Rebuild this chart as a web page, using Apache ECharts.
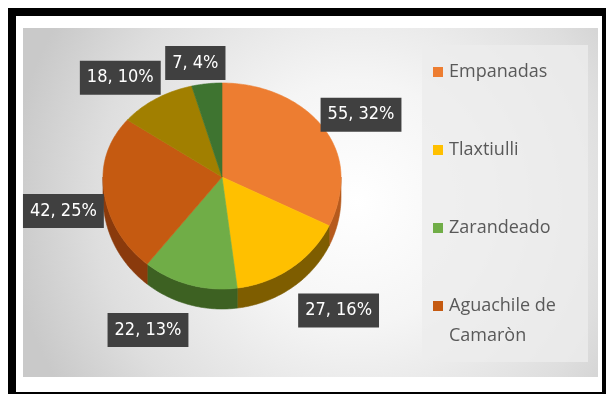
<!DOCTYPE html>
<html>
<head>
<meta charset="utf-8">
<script src="https://cdn.jsdelivr.net/npm/echarts@6/dist/echarts.min.js"></script>
<style>
  html, body { margin: 0; padding: 0; background: #ffffff; }
  #chart { width: 606px; height: 394px; }
</style>
</head>
<body>
<div id="chart"></div>
<script>
// Platillos y cantidades
const categories = ['Empanadas', 'Tlaxtiulli', 'Zarandeado', 'Aguachile de Camaròn', 'Categoría 5', 'Categoría 6'];
const values = [55, 27, 22, 42, 18, 7];
const legendNames = ['Empanadas', 'Tlaxtiulli', 'Zarandeado', 'Aguachile de Camaròn'];

// Colours: top faces and the darker outer walls
const topColors = ['#ED7D31', '#FFC000', '#70AD47', '#C55A11', '#A17F00', '#3E7430'];
const wallColors = ['#B65A1D', '#7E5D00', '#3D6122', '#8A3A0C', '#6E5600', '#2A4F20'];

// Geometry of the tilted pie (pixels)
const CX = 222, CY = 177;
const RX = 119, RY_BACK = 94, RY_FRONT = 112, DEPTH = 20;
// small per-label shifts away from the default outside position
const labelNudge = [[2, 0], [22, 4], [-30, 3], [2, -2], [-12, -2], [-7, 2]];
// legend block: swatch column, first row centre and row pitch
const LEG_X = 433, LEG_Y0 = 72, LEG_STEP = 78;

const TOTAL = values.reduce((a, b) => a + b, 0);
const starts = values.map((v, i) => values.slice(0, i).reduce((a, b) => a + b, 0));

// Whole-number percentages that always add up to 100 (largest remainder)
function percents(list) {
  const sum = list.reduce((a, b) => a + b, 0);
  const raw = list.map(v => v / sum * 100);
  const floors = raw.map(Math.floor);
  const left = 100 - floors.reduce((a, b) => a + b, 0);
  const order = raw.map((r, i) => [r - floors[i], i]).sort((a, b) => b[0] - a[0]);
  for (let k = 0; k < left; k++) floors[order[k][1]] += 1;
  return floors;
}
const pcts = percents(values);

// Point on the rim; angle measured clockwise from 12 o'clock
function rim(theta, drop) {
  const s = Math.sin(theta), c = Math.cos(theta);
  const ry = c > 0 ? RY_BACK : RY_FRONT;
  return [CX + RX * s, CY - ry * c + drop];
}
function arc(a0, a1, drop) {
  const pts = [];
  const n = Math.max(2, Math.ceil(Math.abs(a1 - a0) / (Math.PI / 180)));
  for (let k = 0; k <= n; k++) pts.push(rim(a0 + (a1 - a0) * k / n, drop));
  return pts;
}

function renderSlice(i, v, s) {
  const a0 = s / TOTAL * Math.PI * 2;
  const a1 = (s + v) / TOTAL * Math.PI * 2;
  const children = [];

  // outer wall, visible only on the front half
  const b0 = Math.max(a0, Math.PI / 2), b1 = Math.min(a1, Math.PI * 1.5);
  if (b1 > b0) {
    children.push({
      type: 'polygon', z2: 1,
      shape: { points: arc(b0, b1, 0).concat(arc(b1, b0, DEPTH)) },
      style: { fill: wallColors[i], stroke: wallColors[i], lineWidth: 0.6 }
    });
  }

  // top face
  children.push({
    type: 'polygon', z2: 10,
    shape: { points: [[CX, CY]].concat(arc(a0, a1, 0)) },
    style: { fill: topColors[i], stroke: topColors[i], lineWidth: 0.6 }
  });

  // data label box
  const m = (a0 + a1) / 2;
  const dx = Math.sin(m), dy = -Math.cos(m);
  const p = rim(m, Math.cos(m) < 0 ? DEPTH : 0);
  const text = v + ', ' + pcts[i] + '%';
  const w = text.length * 8.5 + 14, h = 34;
  const lx = p[0] + dx * (w / 2 + 6) + labelNudge[i][0];
  const ly = p[1] + dy * (h / 2 + 6) + labelNudge[i][1];
  children.push({
    type: 'text', z2: 30,
    x: lx, y: ly,
    style: {
      text: text,
      fill: '#ffffff',
      fontSize: 18,
      fontFamily: '"Liberation Sans Narrow", "DejaVu Sans Condensed", sans-serif',
      align: 'center',
      verticalAlign: 'middle',
      backgroundColor: '#404040',
      padding: [8, 7, 8, 7],
      boxShadowBlur: 5,
      boxShadowColor: 'rgba(0,0,0,0.45)',
      boxShadowOffsetX: 2,
      boxShadowOffsetY: 2
    }
  });
  return { type: 'group', children: children };
}

// Legend: swatch plus name, long names wrap after "de"
const legendGraphics = [];
legendNames.forEach((name, k) => {
  const cy = LEG_Y0 + k * LEG_STEP;
  const idx = categories.indexOf(name);
  legendGraphics.push({
    type: 'rect', z: 5,
    shape: { x: LEG_X, y: cy - 5, width: 10, height: 10 },
    style: { fill: topColors[idx] }
  });
  legendGraphics.push({
    type: 'text', z: 5,
    x: LEG_X + 16, y: cy - 15,
    style: {
      text: name.replace(' de ', ' de\n'),
      fill: '#595959',
      fontSize: 18,
      lineHeight: 30,
      fontFamily: '"Open Sans", sans-serif',
      align: 'left',
      verticalAlign: 'top'
    }
  });
});

const chart = echarts.init(document.getElementById('chart'), null, { renderer: 'canvas' });

chart.setOption({
  animation: false,
  backgroundColor: '#ffffff',
  graphic: [
    { type: 'rect', z: -10, shape: { x: 8, y: 8, width: 598, height: 386 }, style: { fill: '#000000' } },
    { type: 'rect', z: -9, shape: { x: 16, y: 16, width: 586, height: 376 }, style: { fill: '#ffffff' } },
    {
      type: 'rect', z: -8, shape: { x: 23, y: 28, width: 575, height: 349 },
      style: {
        fill: new echarts.graphic.RadialGradient(0.58, 0.5, 1, [
          { offset: 0, color: '#ffffff' },
          { offset: 0.35, color: '#f5f5f5' },
          { offset: 0.75, color: '#dedede' },
          { offset: 1, color: '#c9c9c9' }
        ])
      }
    },
    { type: 'rect', z: -7, shape: { x: 422, y: 45, width: 166, height: 317 }, style: { fill: '#ececec', opacity: 0.8 } }
  ].concat(legendGraphics),
  series: categories.map((name, i) => ({
    type: 'custom',
    name: name,
    coordinateSystem: 'none',
    silent: true,
    itemStyle: { color: topColors[i] },
    data: [[values[i], starts[i]]],
    renderItem: (params, api) => renderSlice(i, api.value(0), api.value(1))
  }))
});
</script>
</body>
</html>
